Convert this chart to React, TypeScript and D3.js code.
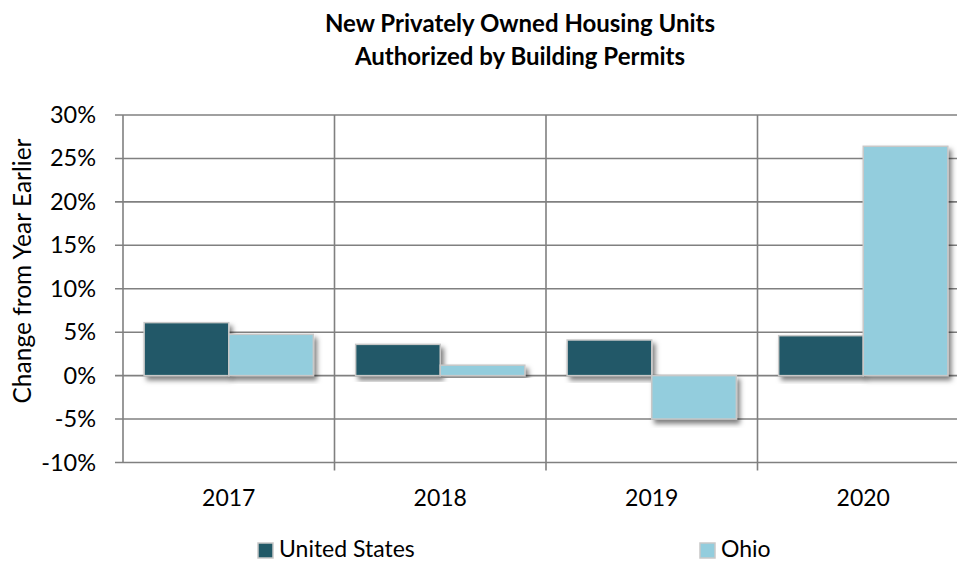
import React from "react";
import * as d3 from "d3";

const categories = ["2017", "2018", "2019", "2020"];
const seriesNames = ["United States", "Ohio"];
const usValues = [6.1, 3.6, 4.1, 4.6];
const ohioValues = [4.75, 1.2, -5.0, 26.4];
const yTicks = [30, 25, 20, 15, 10, 5, 0, -5, -10];
const colors = ["#215967", "#93CDDD"];

const W = 957;
const H = 563;
const FONT = "Lato, 'Open Sans', sans-serif";

export default function App() {
  const left = 123;
  const right = 969;
  const top = 115;
  const bottom = 462.5;

  const x = d3.scaleBand<string>().domain(categories).range([left, right]).paddingInner(0).paddingOuter(0);
  const x1 = d3.scaleBand<string>().domain(seriesNames).range([0, x.bandwidth()]).paddingInner(0).paddingOuter(0.25);
  const y = d3.scaleLinear().domain([-10, 30]).range([bottom, top]);
  const series = [usValues, ohioValues];
  const grid = "#808080";

  return (
    <svg width={W} height={H} style={{ position: "absolute", left: 0, top: 0, background: "#fff" }}>
      <defs>
        <filter id="shadow" x="-20%" y="-20%" width="140%" height="140%">
          <feDropShadow dx="3" dy="4" stdDeviation="2.5" floodColor="#000" floodOpacity="0.5" />
        </filter>
        <clipPath id="clip">
          <rect x={0} y={0} width={W} height={H} />
        </clipPath>
      </defs>
      <g clipPath="url(#clip)">
        <text x={520} y={32} textAnchor="middle" fontFamily={FONT} fontWeight="bold" fontSize={24} fill="#000">
          New Privately Owned Housing Units
        </text>
        <text x={520} y={65} textAnchor="middle" fontFamily={FONT} fontWeight="bold" fontSize={24} fill="#000">
          Authorized by Building Permits
        </text>

        {yTicks.map((t) => (
          <g key={t}>
            <line x1={left - 8} x2={right} y1={y(t)} y2={y(t)} stroke={grid} strokeWidth={1.6} />
            <text x={96} y={y(t) + 8} textAnchor="end" fontFamily={FONT} fontSize={23.5} fill="#000">
              {t}%
            </text>
          </g>
        ))}
        {categories.map((c, i) => (
          <line key={"v" + c} x1={x(c)!} x2={x(c)!} y1={top} y2={bottom + (i === 0 ? 0 : 8)} stroke={grid} strokeWidth={1.6} />
        ))}
        <line x1={right} x2={right} y1={top} y2={bottom + 8} stroke={grid} strokeWidth={1.6} />

        {categories.map((c, i) =>
          seriesNames.map((s, j) => {
            const v = series[j][i];
            const bx = x(c)! + x1(s)!;
            const y0 = y(0);
            const yv = y(v);
            return (
              <rect
                key={c + s}
                x={bx}
                y={Math.min(y0, yv)}
                width={x1.bandwidth()}
                height={Math.abs(yv - y0)}
                fill={colors[j]}
                stroke="#c8c8c8"
                strokeWidth={1.5}
                filter="url(#shadow)"
              />
            );
          })
        )}

        {categories.map((c) => (
          <text key={"xl" + c} x={x(c)! + x.bandwidth() / 2} y={506} textAnchor="middle" fontFamily={FONT} fontSize={23} fill="#000">
            {c}
          </text>
        ))}

        <text
          transform={`translate(31, 271) rotate(-90)`}
          textAnchor="middle"
          fontFamily={FONT}
          fontSize={24.5}
          fill="#000"
        >
          Change from Year Earlier
        </text>

        {seriesNames.map((s, j) => {
          const lx = j === 0 ? 258 : 700;
          return (
            <g key={"lg" + s}>
              <rect x={lx} y={543} width={15} height={15} fill={colors[j]} stroke="#c8c8c8" strokeWidth={1.5} />
              <text x={lx + 21} y={557} fontFamily={FONT} fontSize={23} fill="#000">
                {s}
              </text>
            </g>
          );
        })}
      </g>
    </svg>
  );
}
